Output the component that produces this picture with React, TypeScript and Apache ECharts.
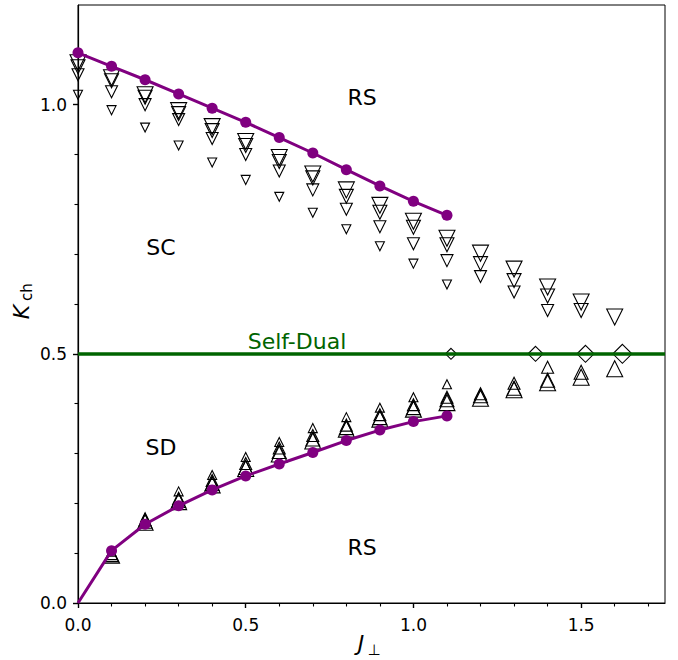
import React, { useEffect, useRef } from "react";
import * as echarts from "echarts";

// J_perp grid used by the simulations
const jSteps = [0, 0.1, 0.2, 0.3, 0.4, 0.5, 0.6, 0.7, 0.8, 0.9, 1.0, 1.1, 1.2, 1.3, 1.4, 1.5, 1.6];

// Purple boundary lines (J = 0 ... 1.1)
const upperBoundaryK = [1.104, 1.077, 1.05, 1.0215, 0.993, 0.9645, 0.934, 0.903, 0.8695, 0.837, 0.806, 0.778];
const lowerBoundaryK = [0, 0.105, 0.158, 0.195, 0.227, 0.255, 0.279, 0.302, 0.326, 0.347, 0.364, 0.3755];

// Upper transition (down triangles), J starts at 0
const downSmallK = [1.02, 0.989, 0.954, 0.918, 0.884, 0.849, 0.815, 0.783, 0.75, 0.716, 0.681, 0.639];
const downMediumK = [1.06, 1.026, 1.0, 0.97, 0.932, 0.9, 0.867, 0.829, 0.79, 0.755, 0.721, 0.687, 0.655, 0.624, 0.587];
const downLargeK = [1.076, 1.048, 1.015, 0.982, 0.948, 0.918, 0.886, 0.853, 0.816, 0.784, 0.754, 0.719, 0.681, 0.647, 0.616, 0.587];
const downLargestK = [1.084, 1.054, 1.02, 0.988, 0.956, 0.926, 0.894, 0.861, 0.829, 0.798, 0.766, 0.732, 0.702, 0.67, 0.634, 0.604, 0.574];

// Lower transition (up triangles), J starts at 0.1
const upSmallK = [0.103, 0.172, 0.224, 0.257, 0.293, 0.323, 0.351, 0.373, 0.392, 0.413, 0.439];
const upMediumK = [0.099, 0.167, 0.21, 0.246, 0.28, 0.311, 0.336, 0.357, 0.378, 0.398, 0.413, 0.42, 0.441, 0.473];
const upLargeK = [0.097, 0.164, 0.206, 0.24, 0.272, 0.304, 0.329, 0.352, 0.372, 0.392, 0.408, 0.416, 0.431, 0.447, 0.463];
const upLargestK = [0.096, 0.162, 0.2035, 0.237, 0.27, 0.299, 0.325, 0.349, 0.369, 0.389, 0.402, 0.411, 0.428, 0.442, 0.453, 0.47];

// Merging points on the self-dual line
const endpointJ = [1.112, 1.364, 1.513, 1.623];
const selfDualK = 0.5;

// Axis ticks
const xMajorTicks = [0, 0.5, 1.0, 1.5];
const xMinorTicks = [0.1, 0.2, 0.3, 0.4, 0.6, 0.7, 0.8, 0.9, 1.1, 1.2, 1.3, 1.4, 1.6, 1.7];
const yMajorTicks = [0, 0.5, 1.0];
const yMinorTicks = [0.1, 0.2, 0.3, 0.4, 0.6, 0.7, 0.8, 0.9, 1.1];

const FONT = "'DejaVu Sans', sans-serif";

const zip = (xs: number[], ys: number[], offset = 0) => ys.map((y, i) => [xs[i + offset], y]);

export default function App() {
  const ref = useRef<HTMLDivElement>(null);

  useEffect(() => {
    document.body.style.margin = "0";
    const chart = echarts.init(ref.current!, undefined, { renderer: "svg" });

    const openStyle = { color: "rgba(0,0,0,0)", borderColor: "#000", borderWidth: 1.1, opacity: 1 };
    const sizes = [9, 12, 14, 16];
    const diamondSizes = [11, 15, 17, 19];
    const downSets = [downSmallK, downMediumK, downLargeK, downLargestK];
    const upSets = [upSmallK, upMediumK, upLargeK, upLargestK];

    const series: any[] = [];
    downSets.forEach((set, i) => {
      series.push({
        type: "scatter",
        data: zip(jSteps, set, 0),
        symbol: "triangle",
        symbolRotate: 180,
        symbolSize: sizes[i],
        itemStyle: openStyle,
        clip: true,
        silent: true,
      });
    });
    upSets.forEach((set, i) => {
      series.push({
        type: "scatter",
        data: zip(jSteps, set, 1),
        symbol: "triangle",
        symbolSize: sizes[i],
        itemStyle: openStyle,
        clip: true,
        silent: true,
      });
    });
    endpointJ.forEach((j, i) => {
      series.push({
        type: "scatter",
        data: [[j, selfDualK]],
        symbol: "diamond",
        symbolSize: diamondSizes[i],
        itemStyle: openStyle,
        clip: true,
        silent: true,
      });
    });
    // self-dual line
    series.push({
      type: "line",
      data: [],
      silent: true,
      markLine: {
        silent: true,
        symbol: "none",
        label: { show: false },
        lineStyle: { color: "#006400", width: 3.5, type: "solid", opacity: 1 },
        data: [{ yAxis: selfDualK }],
      },
    });
    // purple boundaries
    const upper = zip(jSteps, upperBoundaryK, 0);
    const lower = zip(jSteps, lowerBoundaryK, 0);
    [upper, lower].forEach((d, idx) => {
      series.push({
        type: "line",
        data: d,
        showSymbol: false,
        lineStyle: { color: "#800080", width: 3, opacity: 1 },
        clip: true,
        silent: true,
      });
      series.push({
        type: "scatter",
        data: idx === 1 ? d.slice(1) : d,
        symbol: "circle",
        symbolSize: 11,
        itemStyle: { color: "#800080", opacity: 1 },
        clip: true,
        silent: true,
      });
    });

    const axisCommon = {
      splitLine: { show: false },
    };

    chart.setOption({
      animation: false,
      backgroundColor: "#fff",
      grid: {
        left: 78,
        right: 13,
        top: 5,
        bottom: 57,
        show: true,
        borderColor: "#000",
        borderWidth: 1,
        backgroundColor: "transparent",
      },
      xAxis: [
        {
          ...axisCommon,
          type: "value",
          min: 0,
          max: 1.75,
          position: "bottom",
          axisLine: { show: true, lineStyle: { color: "#000", width: 1.2 } },
          axisTick: { show: true, customValues: xMajorTicks, length: 5, lineStyle: { color: "#000", width: 1.4 } },
          axisLabel: {
            customValues: xMajorTicks,
            formatter: (v: number) => v.toFixed(1),
            color: "#000",
            fontSize: 17,
            fontFamily: FONT,
            margin: 13,
          },
        },
        {
          ...axisCommon,
          type: "value",
          min: 0,
          max: 1.75,
          position: "bottom",
          axisLine: { show: false },
          axisTick: { show: true, customValues: xMinorTicks, length: 3.5, lineStyle: { color: "#000", width: 1.1 } },
          axisLabel: { show: false },
        },
      ],
      yAxis: [
        {
          ...axisCommon,
          type: "value",
          min: 0,
          max: 1.2,
          position: "left",
          axisLine: { show: true, lineStyle: { color: "#000", width: 1.2 } },
          axisTick: { show: true, customValues: yMajorTicks, length: 5, lineStyle: { color: "#000", width: 1.4 } },
          axisLabel: {
            customValues: yMajorTicks,
            formatter: (v: number) => v.toFixed(1),
            color: "#000",
            fontSize: 17,
            fontFamily: FONT,
            margin: 11,
          },
        },
        {
          ...axisCommon,
          type: "value",
          min: 0,
          max: 1.2,
          position: "left",
          axisLine: { show: false },
          axisTick: { show: true, customValues: yMinorTicks, length: 3.5, lineStyle: { color: "#000", width: 1.1 } },
          axisLabel: { show: false },
        },
      ],
      series,
      graphic: [
        { type: "text", x: 362, y: 97, style: { text: "RS", font: `22px ${FONT}`, fill: "#000", align: "center", verticalAlign: "middle", textAlign: "center", textVerticalAlign: "middle" } },
        { type: "text", x: 161, y: 247, style: { text: "SC", font: `22px ${FONT}`, fill: "#000", align: "center", verticalAlign: "middle", textAlign: "center", textVerticalAlign: "middle" } },
        { type: "text", x: 161, y: 447, style: { text: "SD", font: `22px ${FONT}`, fill: "#000", align: "center", verticalAlign: "middle", textAlign: "center", textVerticalAlign: "middle" } },
        { type: "text", x: 362, y: 547, style: { text: "RS", font: `22px ${FONT}`, fill: "#000", align: "center", verticalAlign: "middle", textAlign: "center", textVerticalAlign: "middle" } },
        { type: "text", x: 297, y: 341, style: { text: "Self-Dual", font: `22px ${FONT}`, fill: "#006400", align: "center", verticalAlign: "middle", textAlign: "center", textVerticalAlign: "middle" } },
        // x-axis title J_perp
        { type: "text", x: 361, y: 643, style: { text: "J", font: `italic 22px ${FONT}`, fill: "#000", align: "center", verticalAlign: "middle", textAlign: "center", textVerticalAlign: "middle" } },
        { type: "text", x: 374, y: 650, style: { text: "⊥", font: `15px ${FONT}`, fill: "#000", align: "center", verticalAlign: "middle", textAlign: "center", textVerticalAlign: "middle" } },
        // y-axis title K_ch
        { type: "text", x: 21, y: 312, rotation: Math.PI / 2, style: { text: "K", font: `italic 22px ${FONT}`, fill: "#000", align: "center", verticalAlign: "middle", textAlign: "center", textVerticalAlign: "middle" } },
        { type: "text", x: 27, y: 292, rotation: Math.PI / 2, style: { text: "ch", font: `15px ${FONT}`, fill: "#000", align: "center", verticalAlign: "middle", textAlign: "center", textVerticalAlign: "middle" } },
      ],
    });

    return () => chart.dispose();
  }, []);

  return <div ref={ref} style={{ width: 678, height: 660 }} />;
}
